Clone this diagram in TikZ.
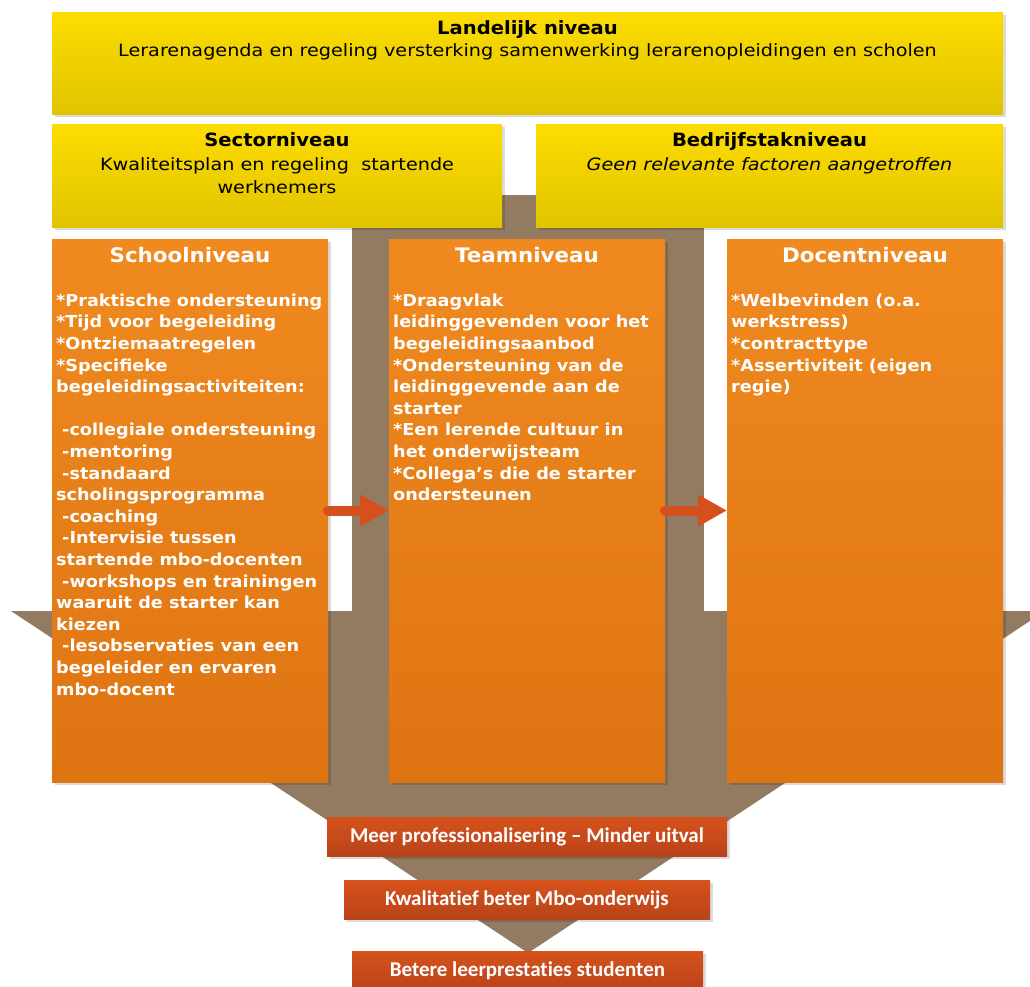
\documentclass[tikz,border=0pt]{standalone}
\usepackage{fontspec}
\setmainfont{DejaVu Sans}[
  UprightFeatures={FakeStretch=1.13},
  ItalicFeatures={FakeStretch=1.13},
  BoldFeatures={FakeStretch=1.07}]
\newfontfamily\calfont{Carlito}[Ligatures=NoCommon]
\usetikzlibrary{arrows.meta,shadows}

\definecolor{ylwtop}{HTML}{FDDC00}
\definecolor{ylwbot}{HTML}{E0C400}
\definecolor{orgtop}{HTML}{F08A1F}
\definecolor{orgbot}{HTML}{DE7412}
\definecolor{redtop}{HTML}{D6521B}
\definecolor{redbot}{HTML}{B9431A}
\definecolor{funnel}{HTML}{937B62}
\definecolor{flow}{HTML}{D4501C}

\newcommand\dashind{\hspace*{6pt}}

\begin{document}
\begin{tikzpicture}[x=1pt,y=-1pt,
  panel/.style={anchor=north west, inner sep=0pt, outer sep=0pt,
    drop shadow={shadow xshift=3pt, shadow yshift=-3pt, fill=black, opacity=0.14}},
  ylwbox/.style={panel, top color=ylwtop, bottom color=ylwbot},
  orgbox/.style={panel, top color=orgtop, bottom color=orgbot},
  redbox/.style={panel, top color=redtop, bottom color=redbot, anchor=center,
    text=white, font=\calfont\fontsize{21}{24}\selectfont\bfseries},
  headtxt/.style={anchor=base, inner sep=0pt, font=\fontsize{18.3}{22}\selectfont\bfseries},
  subtxt/.style={anchor=north, inner sep=0pt, align=center, font=\fontsize{17}{23}\selectfont},
  titletxt/.style={anchor=base, inner sep=0pt, text=white, font=\fontsize{20}{24}\selectfont\bfseries},
  bodytxt/.style={anchor=north west, inner sep=0pt, align=left, text=white,
    font=\fontsize{16.5}{21.6}\selectfont\bfseries},
  flowarrow/.style={draw=flow, line width=10pt, line cap=round,
    -{Triangle[length=29pt,width=30pt]}}
]
\useasboundingbox (0,0) rectangle (1030,986);

% funnel behind the panels: stem and converging triangle
\fill[funnel] (352,195) rectangle (704,612);
\fill[funnel] (11,611) -- (1045,611) -- (528,953) -- cycle;

% national level
\node[ylwbox, minimum width=951pt, minimum height=102pt] (land) at (52,12) {};
\node[headtxt] (landhead) at (527.5,34) {Landelijk niveau};
\node[anchor=base, inner sep=0pt, font=\fontsize{17}{22}\selectfont] (landsub) at (527.5,56)
  {Lerarenagenda en regeling versterking samenwerking lerarenopleidingen en scholen};

% sector and industry level
\node[ylwbox, minimum width=450pt, minimum height=103pt] (sector) at (52,124) {};
\node[headtxt] (sectorhead) at (277,146) {Sectorniveau};
\node[subtxt] (sectorsub) at (277,157) {Kwaliteitsplan en regeling\ \ startende\\werknemers};

\node[ylwbox, minimum width=467pt, minimum height=103pt] (bedrijf) at (536,124) {};
\node[headtxt] (bedrijfhead) at (769.5,146) {Bedrijfstakniveau};
\node[anchor=base, inner sep=0pt, font=\fontsize{17}{22}\selectfont\itshape] (bedrijfsub) at (769.5,170)
  {Geen relevante factoren aangetroffen};

% school, team and teacher level
\node[orgbox, minimum width=276pt, minimum height=543pt] (school) at (52,239) {};
\node[orgbox, minimum width=276pt, minimum height=543pt] (team) at (389,239) {};
\node[orgbox, minimum width=276pt, minimum height=543pt] (docent) at (727,239) {};

\node[titletxt] (schooltitle) at (190,262) {Schoolniveau};
\node[titletxt] (teamtitle) at (527,262) {Teamniveau};
\node[titletxt] (docenttitle) at (865,262) {Docentniveau};

\node[bodytxt] (schooltxt) at (56,293.5) {*Praktische ondersteuning\\
*Tijd voor begeleiding\\
*Ontziemaatregelen\\
*Specifieke\\
begeleidingsactiviteiten:\\[21.6pt]
\dashind-collegiale ondersteuning\\
\dashind-mentoring\\
\dashind-standaard\\
scholingsprogramma\\
\dashind-coaching\\
\dashind-Intervisie tussen\\
startende mbo-docenten\\
\dashind-workshops en trainingen\\
waaruit de starter kan\\
kiezen\\
\dashind-lesobservaties van een\\
begeleider en ervaren\\
mbo-docent};

\node[bodytxt] (teamtxt) at (393,293.5) {*Draagvlak\\
leidinggevenden voor het\\
begeleidingsaanbod\\
*Ondersteuning van de\\
leidinggevende aan de\\
starter\\
*Een lerende cultuur in\\
het onderwijsteam\\
*Collega’s die de starter\\
ondersteunen};

\node[bodytxt] (docenttxt) at (731,293.5) {*Welbevinden (o.a.\\
werkstress)\\
*contracttype\\
*Assertiviteit (eigen\\
regie)};

% outcomes
\node[redbox, minimum width=400pt, minimum height=39pt] (meer) at (527,836.5)
  {Meer professionalisering – Minder uitval};
\node[redbox, minimum width=366pt, minimum height=39pt] (kwal) at (527,899.5)
  {Kwalitatief beter Mbo-onderwijs};
\node[redbox, minimum width=351pt, minimum height=40pt] (betere) at (527.5,971)
  {Betere leerprestaties studenten};

% influence arrows between levels
\draw[flowarrow] (school.east) -- (team.west);
\draw[flowarrow] (team.east) -- (docent.west);
\end{tikzpicture}
\end{document}
